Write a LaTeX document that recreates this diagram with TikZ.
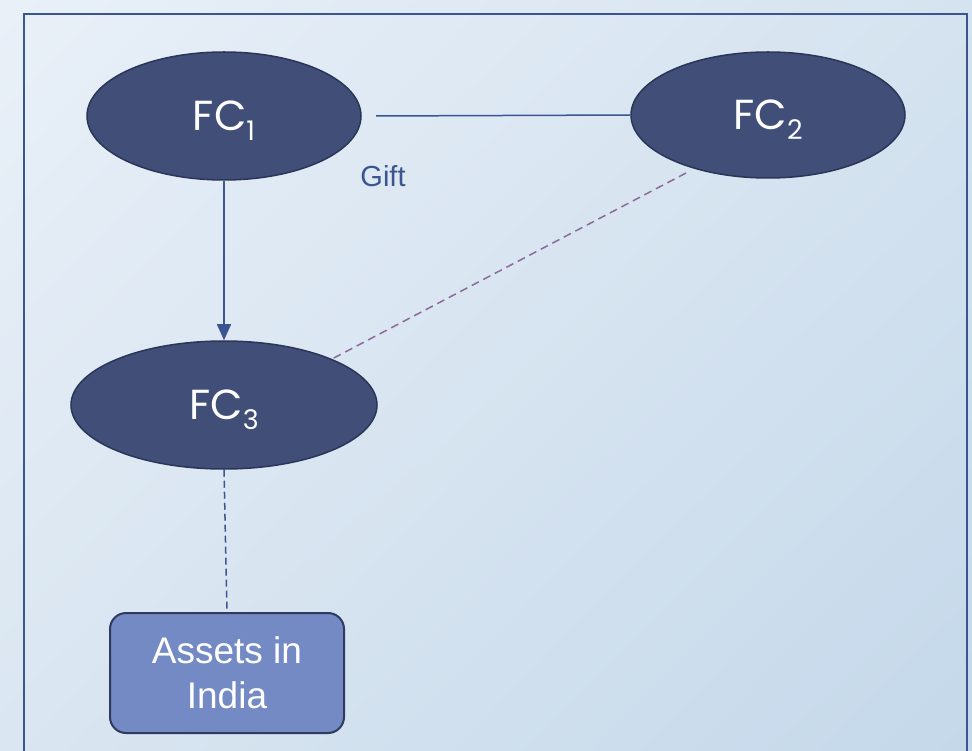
\documentclass[tikz,border=0pt]{standalone}
\usepackage{fontspec}
\setmainfont{Liberation Sans}
\newfontfamily\gothic{Poppins}
\usetikzlibrary{shapes.geometric,arrows.meta,shadings}
\definecolor{frameblue}{HTML}{3A5590}
\definecolor{ellfill}{HTML}{404E78}
\definecolor{ellline}{HTML}{2A3558}
\definecolor{boxfill}{HTML}{748AC4}
\definecolor{boxline}{HTML}{2E3A5E}
\definecolor{dashpurple}{HTML}{8C6A9A}
\definecolor{bgTL}{HTML}{E9F0F8}
\definecolor{bgTR}{HTML}{D5E3F0}
\definecolor{bgBL}{HTML}{DAE6F1}
\definecolor{bgBR}{HTML}{C4D8EA}
\newcommand{\fcsub}[1]{FC{\fontsize{27}{27}\selectfont\smash{\raisebox{-10pt}{#1}}}}
\tikzset{
  fcnode/.style={ellipse, fill=ellfill, draw=ellline, line width=1.5pt, inner sep=0pt,
    text=white, font=\gothic\fontsize{42}{42}\selectfont},
  assetbox/.style={rectangle, rounded corners=16pt, fill=boxfill, draw=boxline, line width=2pt,
    text=white, align=center, inner sep=0pt, minimum width=234pt, minimum height=120pt,
    font=\fontsize{37}{45}\selectfont},
  conn/.style={draw=frameblue, line width=1.5pt},
}
\begin{document}
\begin{tikzpicture}[x=1pt,y=-1pt]
\useasboundingbox (0,0) rectangle (972,751);
\shade[upper left=bgTL, upper right=bgTR, lower left=bgBL, lower right=bgBR] (0,0) rectangle (972,751);
\draw[frameblue, line width=2pt] (24,760) -- (24,14) -- (967,14) -- (967,760);

\node[fcnode, minimum width=274pt, minimum height=128pt] (fc1) at (224,116) {\fcsub{1}};
\node[fcnode, minimum width=274pt, minimum height=126pt] (fc2) at (768,115) {\fcsub{2}};
\node[fcnode, minimum width=306pt, minimum height=128pt] (fc3) at (224,405) {\fcsub{3}};
\node[assetbox] (assets) at (227,673) {Assets in\\India};

\node[text=frameblue, font=\fontsize{29}{29}\selectfont] (gift) at (383,176) {Gift};

\coordinate (giftstart) at (376,116);
\coordinate (dashA) at (686,173);
\coordinate (dashB) at (330,360);

\draw[conn] (giftstart) -- (fc2.west);
\draw[conn, -{Triangle[length=16pt,width=14pt]}] (fc1.south) -- (fc3.north);
\draw[draw=dashpurple, line width=1.5pt, dash pattern=on 8pt off 5pt] (dashA) -- (dashB);
\draw[conn, dash pattern=on 7pt off 4pt] (fc3.south) -- (assets.north);
\end{tikzpicture}
\end{document}
